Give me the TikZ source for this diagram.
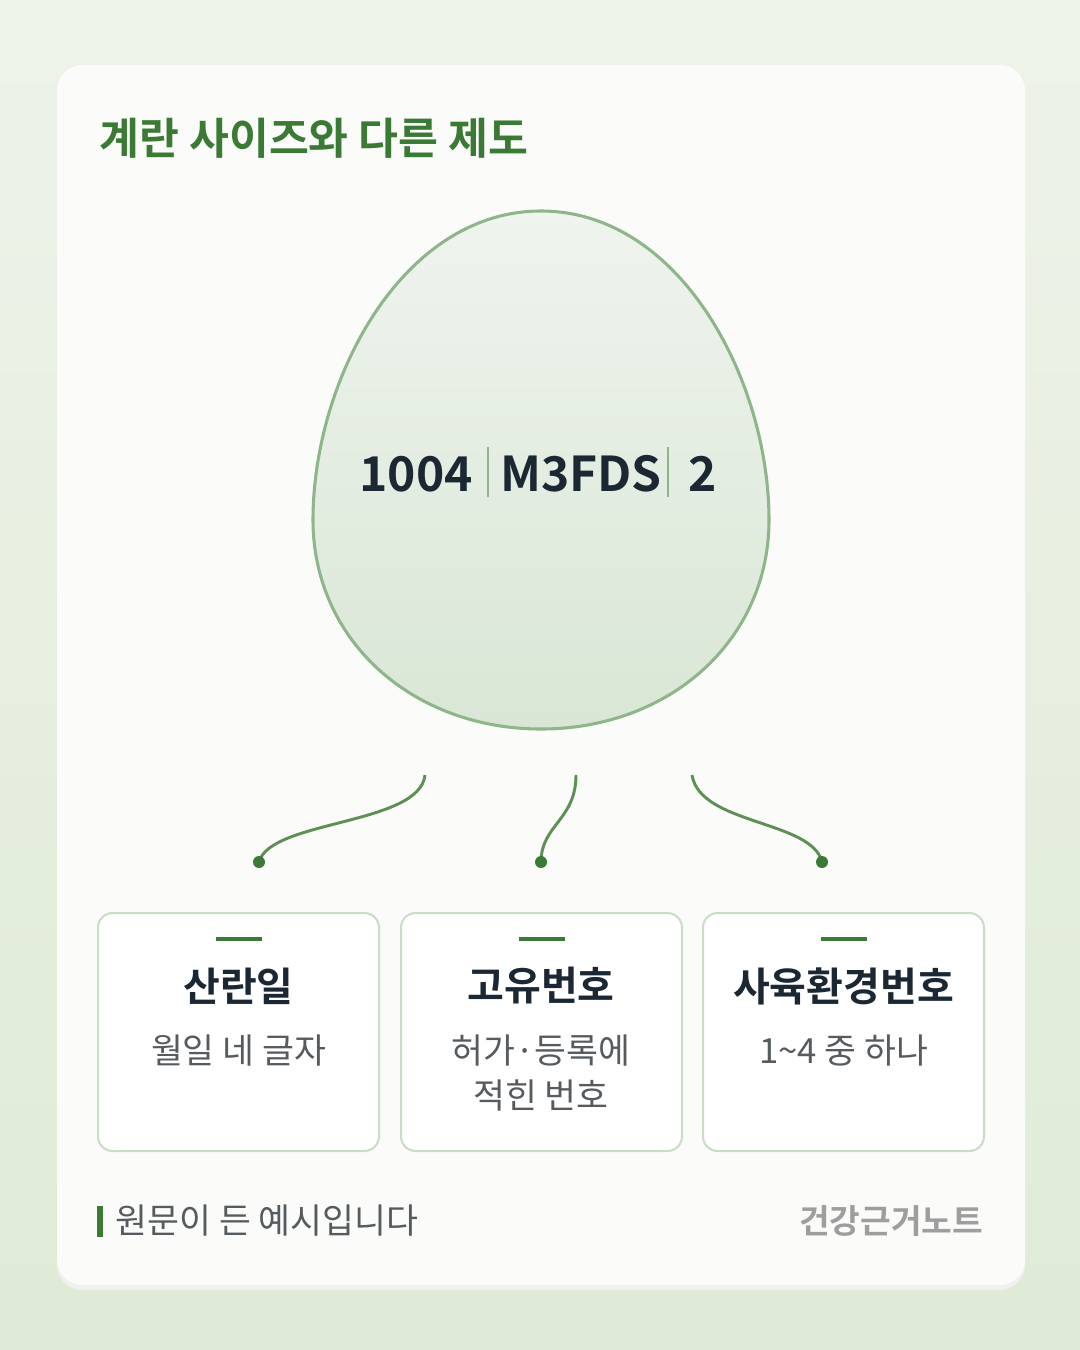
\documentclass[tikz,border=0pt]{standalone}
\usepackage{fontspec}
\setmainfont{Noto Sans CJK KR}
\newfontfamily\boldkr{Noto Sans CJK KR Bold}
\usetikzlibrary{positioning, calc}
\definecolor{leaf}{HTML}{3B7A35}
\definecolor{vine}{HTML}{5E8F55}
\definecolor{shell}{HTML}{8FB58A}
\definecolor{ink}{HTML}{1B2733}
\definecolor{note}{HTML}{555B5E}
\definecolor{rim}{HTML}{C9DCC6}
\definecolor{bgtop}{HTML}{EEF3EA}
\definecolor{bgbot}{HTML}{DFEBD6}
\definecolor{paper}{HTML}{FBFCFA}
\definecolor{eggtop}{HTML}{EFF4EE}
\definecolor{eggbot}{HTML}{D9E6D5}
\tikzset{
  card box/.style={draw=rim, line width=1.5pt, rounded corners=11pt, fill=white},
  box title/.style={font=\boldkr\fontsize{30pt}{34pt}\selectfont, text=ink},
  box note/.style={font=\fontsize{26pt}{34pt}\selectfont, text=note, align=center},
  vine line/.style={vine, line width=2.2pt},
}
\begin{document}
\begin{tikzpicture}[x=0.75pt, y=-0.75pt]
\useasboundingbox (0,0) rectangle (1080,1350);
% background and card
\shade[top color=bgtop, bottom color=bgbot] (0,0) rectangle (1080,1350);
\fill[black!6, rounded corners=19pt] (57,70) rectangle (1025,1290);
\fill[paper, rounded corners=19pt] (57,65) rectangle (1025,1285);
\node[anchor=west, font=\boldkr\fontsize{32.5pt}{36pt}\selectfont, text=leaf] (title) at (95,138) {계란 사이즈와 다른 제도};
% egg
\shade[top color=eggtop, bottom color=eggbot, draw=shell, line width=2.3pt]
  (541,211) .. controls (680,211) and (769,380) .. (769,520)
  .. controls (769,640) and (670,729) .. (541,729)
  .. controls (412,729) and (313,640) .. (313,520)
  .. controls (313,380) and (402,211) .. (541,211) -- cycle;
\begin{scope}[font=\boldkr\fontsize{36pt}{40pt}\selectfont, text=ink]
\node (date) at (416,474) {1004};
\node (code) at (581,474) {M3FDS};
\node (env) at (703,474) {2};
\end{scope}
\draw[shell, line width=1pt] (488,447) -- (488,497) (668,447) -- (668,497);
% connectors
\coordinate (s1) at (425,775); \coordinate (e1) at (259,862);
\coordinate (s2) at (576,775); \coordinate (e2) at (541,862);
\coordinate (s3) at (692,775); \coordinate (e3) at (822,862);
\draw[vine line] (s1) .. controls (420,825) and (270,820) .. (e1);
\draw[vine line] (s2) .. controls (576,820) and (541,825) .. (e2);
\draw[vine line] (s3) .. controls (700,825) and (812,820) .. (e3);
\foreach \e in {e1,e2,e3} \fill[leaf] (\e) circle (4.5pt);
% boxes
\foreach \x/\n in {98/a,401/b,703/c} {
  \draw[card box] (\x,913) rectangle ++(281,238);
  \draw[leaf, line width=3.5pt] ($(\x,939)+(117.5,0)$) -- ++(46,0);
}
\node[box title] (t1) at (238.5,986) {산란일};
\node[box note, anchor=north] (n1) at (238.5,1030) {월일 네 글자};
\node[box title] (t2) at (541,986) {고유번호};
\node[box note, anchor=north] (n2) at (541,1030) {허가·등록에\\적힌 번호};
\node[box title] (t3) at (843.5,986) {사육환경번호};
\node[box note, anchor=north] (n3) at (843.5,1030) {1\textasciitilde4 중 하나};
% footer
\fill[leaf] (97,1206) rectangle (103,1237);
\node[anchor=west, font=\fontsize{26pt}{28pt}\selectfont, text=note] (src) at (111,1221) {원문이 든 예시입니다};
\node[anchor=east, font=\boldkr\fontsize{25pt}{28pt}\selectfont, text=black!38] (brand) at (988,1221) {건강근거노트};
\end{tikzpicture}
\end{document}
